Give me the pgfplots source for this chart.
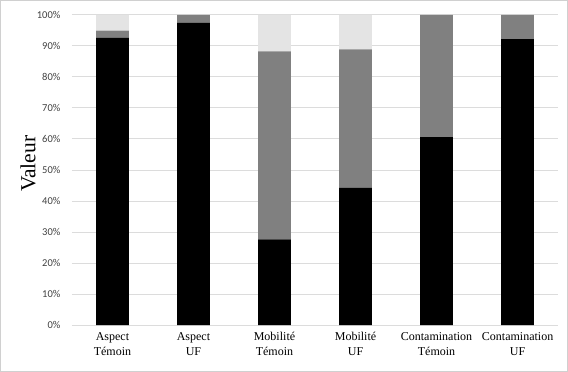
\documentclass[border=0pt]{standalone}
\usepackage{pgfplots}
\pgfplotsset{compat=1.18}
\usepackage{pgfplotstable}
\usepackage{fontspec}
\setmainfont{Liberation Serif}
\newfontfamily\tickfont{Carlito}
\definecolor{gridc}{HTML}{DCDCDC}
\definecolor{midgray}{HTML}{808080}
\definecolor{lightg}{HTML}{E4E4E4}
\definecolor{framec}{HTML}{D0D0D0}
\definecolor{tickc}{HTML}{404040}
\pgfplotstableread{
x val
0 92.7
1 97.4
2 27.6
3 44.3
4 60.6
5 92.2
}\tblA
\pgfplotstableread{
x val
0 2.2
1 2.6
2 60.6
3 44.6
4 39.4
5 7.8
}\tblB
\pgfplotstableread{
x val
0 5.1
1 0
2 11.8
3 11.1
4 0
5 0
}\tblC
\begin{document}
\begin{tikzpicture}
\begin{axis}[
  at={(0pt,0pt)}, anchor=south west,
  scale only axis, width=486pt, height=310pt,
  ybar stacked, bar width=0.405,
  xmin=-0.5, xmax=5.5, ymin=0, ymax=100,
  xtick={0,...,5},
  xticklabels={Aspect\\Témoin, Aspect\\UF, Mobilité\\Témoin, Mobilité\\UF, Contamination\\Témoin, Contamination\\UF},
  xticklabel style={align=center, font=\fontsize{12}{15}\selectfont, yshift=-4pt},
  ytick={0,10,...,100},
  yticklabels={0\%,10\%,20\%,30\%,40\%,50\%,60\%,70\%,80\%,90\%,100\%},
  yticklabel style={font=\tickfont\fontsize{10.5}{12}\selectfont, xshift=-8pt, text=tickc},
  major tick length=0pt,
  axis line style={draw=none},
  ymajorgrids, grid style={gridc, line width=0.9pt},
  every axis y label/.style={at={(axis description cs:-0.09,0.52)}, rotate=90, anchor=center},
  ylabel={\fontsize{21.5}{24}\selectfont Valeur},
  clip=false,
]
\addplot[fill=black, draw=none] table[x=x, y=val] {\tblA};
\addplot[fill=midgray, draw=none] table[x=x, y=val] {\tblB};
\addplot[fill=lightg, draw=none] table[x=x, y=val] {\tblC};
\end{axis}
\draw[framec, line width=0.8pt] (-71.5pt,-46.5pt) rectangle (495.5pt,324.5pt);
\end{tikzpicture}
\end{document}
